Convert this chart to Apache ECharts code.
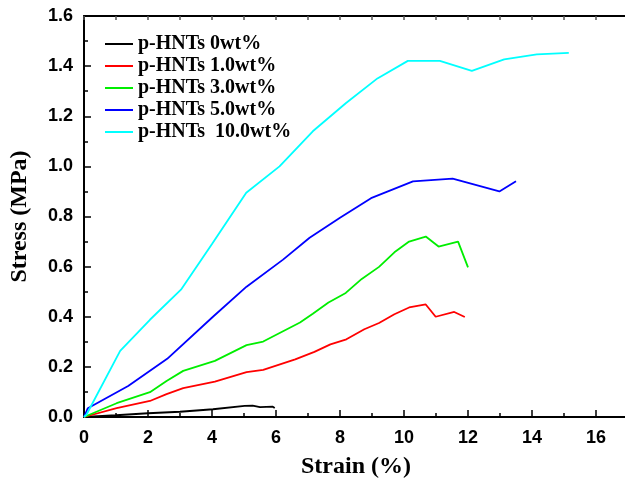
<!DOCTYPE html>
<html>
<head>
<meta charset="utf-8">
<script src="https://cdn.jsdelivr.net/npm/echarts@6/dist/echarts.min.js"></script>
<style>html,body{margin:0;padding:0;background:#fff}#c{width:625px;height:479px}</style>
</head>
<body>
<div id="c"></div>
<script>
const seriesNames = ['p-HNTs 0wt%', 'p-HNTs 1.0wt%', 'p-HNTs 3.0wt%', 'p-HNTs 5.0wt%', 'p-HNTs  10.0wt%'];
const seriesColors = ['#000000', '#ff0000', '#00ee00', '#0000ff', '#00ffff'];
const s0 = [[0,0],[1,0.007],[2,0.015],[3,0.021],[4.03,0.031],[5.02,0.044],[5.27,0.045],[5.5,0.039],[5.9,0.041],[5.96,0.036]];
const s1 = [[0,0],[1.02,0.035],[2.06,0.064],[2.58,0.091],[3.1,0.115],[4.09,0.141],[5.08,0.179],[5.6,0.188],[6.6,0.23],[7.2,0.26],[7.7,0.29],[8.2,0.31],[8.76,0.35],[9.22,0.375],[9.7,0.41],[10.16,0.437],[10.68,0.449],[10.99,0.40],[11.57,0.419],[11.9,0.399]];
const s3 = [[0,0],[1.02,0.055],[2.06,0.099],[2.58,0.144],[3.1,0.184],[4.09,0.224],[5.08,0.287],[5.6,0.301],[6.75,0.377],[7.15,0.412],[7.64,0.457],[8.18,0.495],[8.68,0.551],[9.22,0.599],[9.7,0.657],[10.16,0.70],[10.68,0.72],[11.08,0.68],[11.69,0.70],[12.0,0.597]];
const s5 = [[0,0],[0.12,0.035],[1.38,0.124],[2.6,0.232],[4.03,0.40],[5.08,0.52],[6.22,0.628],[7.05,0.715],[8.0,0.795],[8.97,0.873],[10.28,0.94],[11.52,0.951],[12.98,0.90],[13.5,0.941]];
const s10 = [[0,0],[0.08,0.01],[1.13,0.264],[2.06,0.388],[3.03,0.508],[4.0,0.69],[5.07,0.895],[6.11,1.0],[7.15,1.14],[8.18,1.252],[9.17,1.351],[10.12,1.421],[11.12,1.421],[12.12,1.381],[13.13,1.427],[14.15,1.447],[15.15,1.453]];
const allData = [s0, s1, s3, s5, s10];
const xTicks = {min: 0, max: 17, interval: 2};
const yTicks = {min: 0, max: 1.6, interval: 0.2};

const chart = echarts.init(document.getElementById('c'), null, {renderer: 'canvas'});
const axisLine = {show: true, lineStyle: {color: '#000', width: 2}};
chart.setOption({
  animation: false,
  backgroundColor: '#fff',
  grid: {left: 84, top: 16, right: -3, bottom: 62, containLabel: false, outerBoundsMode: 'none'},
  legend: {
    show: true,
    left: 100, top: 29,
    orient: 'vertical',
    itemWidth: 28, itemHeight: 2, itemGap: 2,
    icon: 'rect',
    textStyle: {fontFamily: 'Liberation Serif', fontWeight: 'bold', fontSize: 20, color: '#000'},
    data: seriesNames.map((n, i) => ({name: n, itemStyle: {color: seriesColors[i]}}))
  },
  xAxis: [{
    type: 'value', min: xTicks.min, max: xTicks.max, interval: xTicks.interval,
    name: 'Strain (%)', nameLocation: 'middle', nameGap: 38,
    nameTextStyle: {fontFamily: 'Liberation Serif', fontWeight: 'bold', fontSize: 24, color: '#000'},
    axisLine: axisLine,
    axisTick: {show: true, inside: true, length: 7, lineStyle: {color: '#000', width: 1.5}},
    minorTick: {show: true, splitNumber: 2, length: 4, lineStyle: {color: '#000', width: 1.5}},
    axisLabel: {fontFamily: 'Liberation Sans', fontWeight: 'bold', fontSize: 18, color: '#000', margin: 12, showMaxLabel: false},
    splitLine: {show: false}
  }, {
    type: 'value', position: 'top', min: xTicks.min, max: xTicks.max, interval: xTicks.interval,
    axisLine: axisLine,
    axisTick: {show: true, inside: true, length: 4, lineStyle: {color: '#555', width: 1.5}},
    minorTick: {show: true, splitNumber: 2, length: 4, lineStyle: {color: '#555', width: 1.5}},
    axisLabel: {show: false},
    splitLine: {show: false}
  }],
  yAxis: {
    type: 'value', min: yTicks.min, max: yTicks.max, interval: yTicks.interval,
    name: 'Stress (MPa)', nameLocation: 'middle', nameGap: 52, nameRotate: 90,
    nameTextStyle: {fontFamily: 'Liberation Serif', fontWeight: 'bold', fontSize: 24, color: '#000'},
    axisLine: axisLine,
    axisTick: {show: true, inside: true, length: 7, lineStyle: {color: '#000', width: 1.5}},
    minorTick: {show: true, splitNumber: 2, length: 4, lineStyle: {color: '#000', width: 1.5}},
    axisLabel: {fontFamily: 'Liberation Sans', fontWeight: 'bold', fontSize: 18, color: '#000', margin: 11,
      formatter: v => v.toFixed(1)},
    splitLine: {show: false}
  },
  series: allData.map((d, i) => ({
    name: seriesNames[i], type: 'line', data: d, showSymbol: false, symbol: 'none',
    xAxisIndex: 0,
    lineStyle: {color: seriesColors[i], width: 1.8},
    itemStyle: {color: seriesColors[i]},
    clip: true
  }))
});
</script>
</body>
</html>
